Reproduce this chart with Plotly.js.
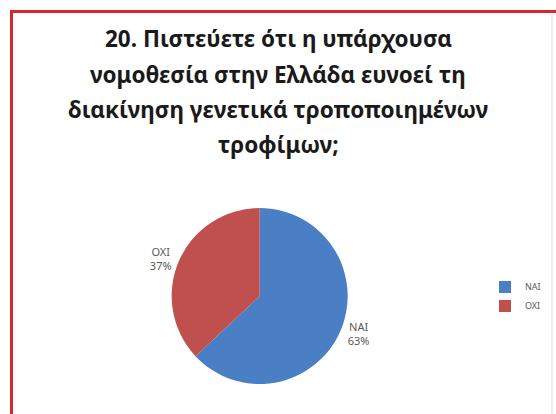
<!DOCTYPE html>
<html>
<head>
<meta charset="utf-8">
<script src="https://cdn.plot.ly/plotly-3.0.1.min.js"></script>
<style>html,body{margin:0;padding:0;background:#fff;}#chart{width:556px;height:414px;}</style>
</head>
<body>
<div id="chart"></div>
<script>
const titleLines = [
  "20. Πιστεύετε ότι η υπάρχουσα",
  "νομοθεσία στην Ελλάδα ευνοεί τη",
  "διακίνηση γενετικά τροποποιημένων",
  "τροφίμων;"
];
const categories = ["NAI", "ΟΧΙ"];
const values = [63, 37];
const colors = ["#4A7EC5", "#C0504D"];

const lineY = [39, 74, 109, 144];
const annotations = titleLines.map((t, i) => ({
  text: "<b>" + t + "</b>",
  xref: "paper", yref: "paper",
  x: 0.5, y: 1 - lineY[i] / 414,
  xanchor: "center", yanchor: "middle",
  showarrow: false,
  font: {family: "Noto Sans, DejaVu Sans, sans-serif", size: 22.5, color: "#1a1a1a"}
}));

const data = [{
  type: "pie",
  labels: categories,
  values: values,
  sort: false,
  direction: "clockwise",
  rotation: 0,
  marker: {colors: colors, line: {color: "#ffffff", width: 0}},
  textinfo: "label+percent",
  textposition: "outside",
  outsidetextfont: {family: "Noto Sans, sans-serif", size: 11, color: "#595959"},
  domain: {x: [0.2, 0.734], y: [0.0725, 0.4976]},
  automargin: false,
  hoverinfo: "none"
}];

const layout = {
  width: 556, height: 414,
  margin: {l: 0, r: 0, t: 0, b: 0},
  paper_bgcolor: "#ffffff",
  showlegend: true,
  legend: {
    x: 485/556, y: 0.342, xanchor: "left", yanchor: "top",
    itemwidth: 30,
    font: {family: "Noto Sans, sans-serif", size: 9, color: "#595959"},
    bgcolor: "rgba(0,0,0,0)"
  },
  annotations: annotations,
  shapes: [
    {type: "line", xref: "paper", yref: "paper", x0: 10/556, x1: 1, y0: 1 - 11.5/414, y1: 1 - 11.5/414, line: {color: "#D7262E", width: 3}},
    {type: "line", xref: "paper", yref: "paper", x0: 11.5/556, x1: 11.5/556, y0: 0, y1: 1 - 10/414, line: {color: "#D7262E", width: 3}},
    {type: "line", xref: "paper", yref: "paper", x0: 552/556, x1: 552/556, y0: 0, y1: 1 - 14/414, line: {color: "#dddddd", width: 1}}
  ]
};

Plotly.newPlot("chart", data, layout, {displayModeBar: false, staticPlot: true});
</script>
</body>
</html>
